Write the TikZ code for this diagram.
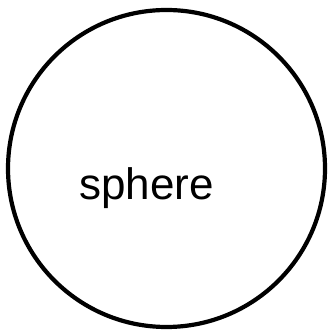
\documentclass[tikz,border=0pt]{standalone}
\usepackage{fontspec}
\setmainfont{Liberation Sans}
\usetikzlibrary{calc}

\begin{document}
\begin{tikzpicture}[x=1pt, y=1pt]
  % moldura
  \useasboundingbox (0,0) rectangle (328,331);

  % centro e raio
  \def\R{158.5}
  \coordinate (C) at (166.5,162.5);

  % esfera
  \draw[line width=4.2pt] (C) circle (\R);

  % rotulo
  \node[anchor=base west, inner sep=0pt, font=\fontsize{44}{48}\selectfont] (sphere) at (79,131) {sphere};
\end{tikzpicture}
\end{document}
